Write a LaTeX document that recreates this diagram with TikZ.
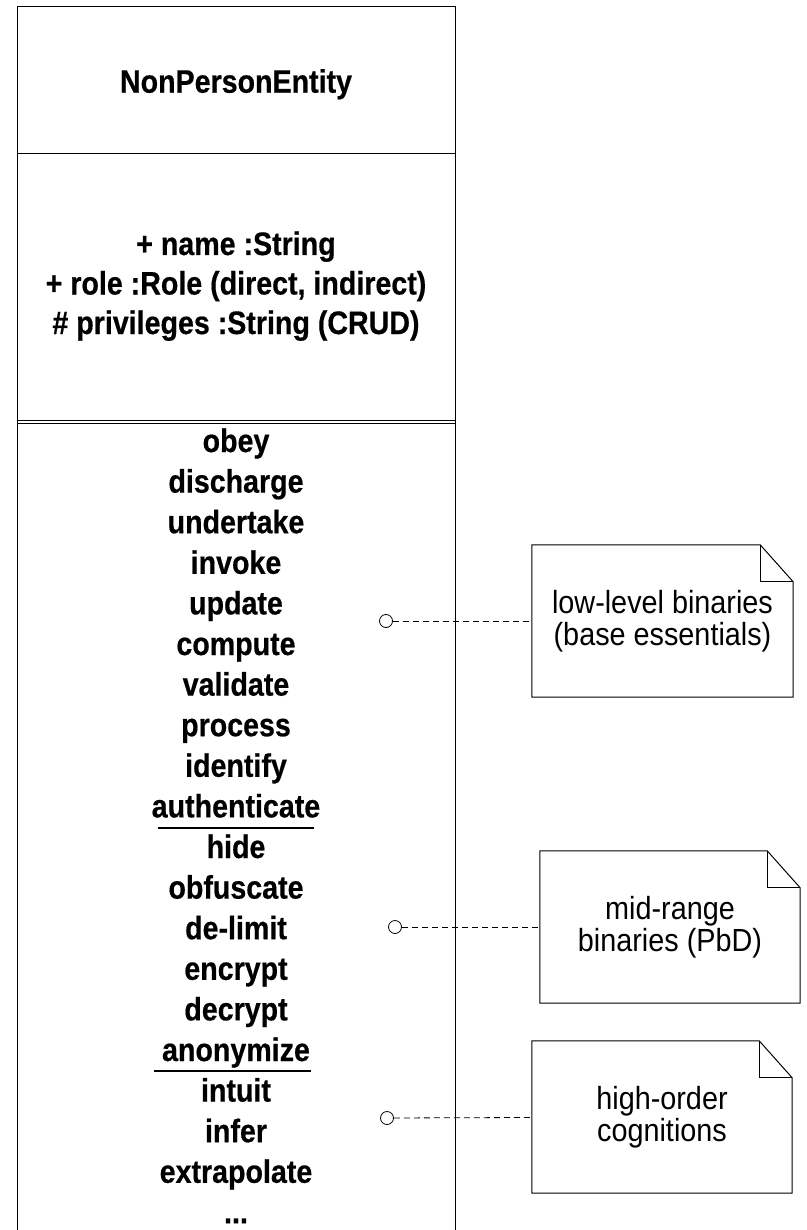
\documentclass[tikz,border=0pt]{standalone}
\usepackage{fontspec}
\setmainfont{Liberation Sans}
\newfontfamily\umlfont[FakeStretch=0.88,FakeBold=0.5]{Liberation Sans}
\newfontfamily\notefont[FakeStretch=0.9]{Liberation Sans}

\begin{document}
\begin{tikzpicture}[x=1pt,y=-1pt,
  frame/.style={line width=1pt, draw=black},
  umltext/.style={font=\umlfont\bfseries\fontsize{32.5}{40}\selectfont, inner sep=0pt, anchor=base},
  notebox/.style={font=\notefont\fontsize{32}{32}\selectfont, align=center, inner sep=0pt,
                  minimum width=261pt, minimum height=152pt},
  port/.style={circle, draw, line width=0.8pt, minimum size=13pt, inner sep=0pt},
  link/.style={line width=0.8pt, dash pattern=on 6pt off 4pt},
  divider/.style={line width=1.8pt}]
\useasboundingbox (0,0) rectangle (806,1230);

% class outline (open at the bottom) and compartment separators
\draw[frame] (17,1230) -- (17,7) -- (455,7) -- (455,1230);
\draw[frame] (17,154) -- (455,154);
\draw[frame] (17,420.5) -- (455,420.5);
\draw[frame] (17,423.5) -- (455,423.5);

% class name
\node[umltext] (title) at (236,92.7) {NonPersonEntity};

% attributes
\node[umltext] (attr1) at (236,255) {+ name :String};
\node[umltext] (attr2) at (236,294.5) {+ role :Role (direct, indirect)};
\node[umltext] (attr3) at (236,334) {\# privileges :String (CRUD)};

% operations
\foreach \t [count=\i from 0] in {obey,discharge,undertake,invoke,update,compute,validate,process,identify,authenticate,hide,obfuscate,de-limit,encrypt,decrypt,anonymize,intuit,infer,extrapolate}
  \node[umltext] (op\i) at (236,452+40.6*\i) {\t};
\node[umltext] (opmore) at (236,452+40.6*19) {...};

% group dividers
\draw[divider] (158,827.7) -- (314,827.7);
\draw[divider] (154,1071) -- (311,1071);

% notes
\node[notebox] (n1) at (662.5,621) {low-level binaries\\(base essentials)};
\node[notebox, minimum width=260pt] (n2) at (670,927) {mid-range\\binaries (PbD)};
\node[notebox, minimum width=260pt] (n3) at (662,1117) {high-order\\cognitions};
\foreach \n in {n1,n2,n3} {
  \draw[frame] (\n.south west) -- (\n.north west) -- ([xshift=-33pt]\n.north east)
    -- ([yshift=-37pt]\n.north east) -- (\n.south east) -- cycle;
  \draw[frame] ([xshift=-33pt]\n.north east) |- ([yshift=-37pt]\n.north east);
}

% anchors and note links
\node[port] (p1) at (386,621) {};
\node[port] (p2) at (395,927) {};
\node[port] (p3) at (387,1118) {};
\draw[link] (p1) -- (n1);
\draw[link] (p2) -- (n2);
\draw[link] (p3) -- (n3);
\end{tikzpicture}
\end{document}
